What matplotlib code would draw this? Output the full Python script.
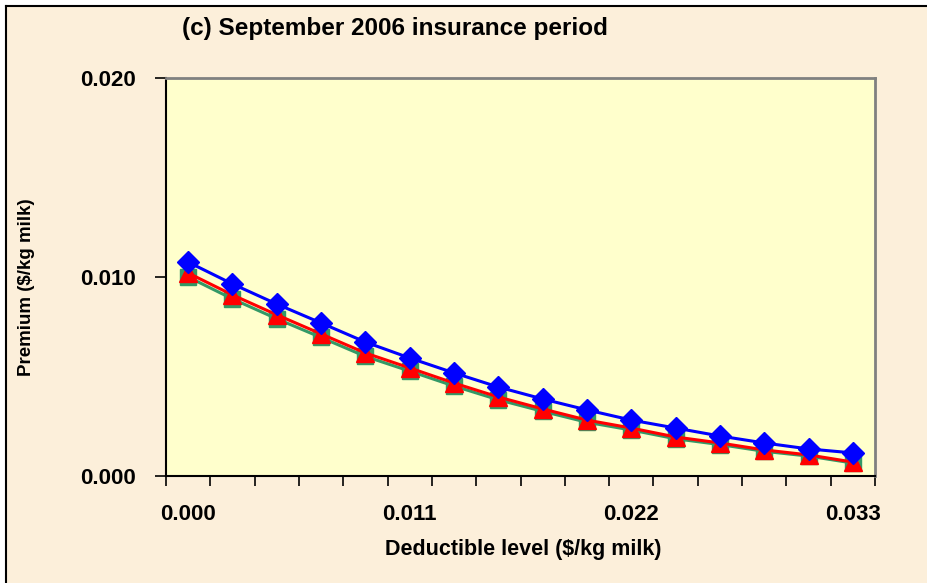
import numpy as np
import matplotlib.pyplot as plt
from matplotlib.patches import Rectangle
from matplotlib.lines import Line2D

plt.rcParams['font.family'] = ['Liberation Sans', 'DejaVu Sans']

deductible = [f"{0.0022 * i:.3f}" for i in range(16)]
tick_labels = ['0.000', '0.011', '0.022', '0.033']
blue = [0.01075, 0.00965, 0.00864, 0.00769, 0.00673, 0.00593, 0.00518, 0.00447,
        0.00387, 0.00332, 0.00281, 0.00241, 0.00201, 0.00166, 0.00136, 0.00116]
red = [0.0102, 0.0091, 0.0081, 0.00714, 0.00618, 0.00543, 0.00467, 0.00397,
       0.00337, 0.00281, 0.00241, 0.00196, 0.00166, 0.00131, 0.00106, 0.0007]
green = [0.01, 0.0089, 0.0079, 0.00696, 0.00601, 0.00527, 0.00452, 0.00383,
         0.00325, 0.0027, 0.00231, 0.00187, 0.00158, 0.00124, 0.001, 0.00065]

fig = plt.figure(figsize=(9.28, 5.83), dpi=100, facecolor='white')
bg = '#FCEFDA'
fig.patches.append(Rectangle((6 / 928, 0), 1, 1 - 6 / 583, transform=fig.transFigure,
                             facecolor=bg, edgecolor='none', zorder=-10))
fig.lines.append(Line2D([6 / 928, 6 / 928], [0, 1 - 6 / 583], transform=fig.transFigure,
                        color='black', lw=1.5))
fig.lines.append(Line2D([6 / 928, 1], [1 - 6 / 583, 1 - 6 / 583], transform=fig.transFigure,
                        color='black', lw=1.5))

ax = fig.add_axes([166 / 928, 1 - 476 / 583, (875 - 166) / 928, (476 - 78) / 583])
ax.set_facecolor('#FFFFCC')

x = np.arange(len(deductible))
ax.plot(x, green, color='#339966', lw=2.2, marker='s', ms=11, mec='#339966', zorder=3)
ax.plot(x, red, color='#FF0000', lw=2.2, marker='^', ms=13, mec='#FF0000', zorder=4)
ax.plot(x, blue, color='#0000FF', lw=2.2, marker='D', ms=11, mec='#0000FF', zorder=5)

ax.set_xlim(-0.5, 15.5)
ax.set_ylim(0, 0.02)
ax.set_xticks([0, 5, 10, 15])
ax.set_xticklabels(tick_labels, fontsize=16, fontweight='bold')
ax.set_xticks(np.arange(-0.5, 16, 1), minor=True)
ax.tick_params(axis='x', which='major', length=0, pad=20)
ax.tick_params(axis='x', which='minor', length=7, width=1.2, direction='out')
ax.set_yticks([0, 0.01, 0.02])
ax.set_yticklabels(['0.000', '0.010', '0.020'], fontsize=16, fontweight='bold')
ax.tick_params(axis='y', length=8, width=1.2, direction='out', pad=14)

for s in ['left', 'bottom']:
    ax.spines[s].set_color('black')
    ax.spines[s].set_linewidth(1.5)
for s in ['top', 'right']:
    ax.spines[s].set_color('#808080')
    ax.spines[s].set_linewidth(2)

fig.text(523 / 928, 1 - 550 / 583, 'Deductible level ($/kg milk)', fontsize=15.5,
         fontweight='bold', ha='center', va='center')
fig.text(27 / 928, 1 - 287 / 583, 'Premium ($/kg milk)', fontsize=13.5,
         fontweight='bold', ha='center', va='center', rotation=90)
fig.text(395 / 928, 1 - 28 / 583, '(c) September 2006 insurance period', fontsize=17.5,
         fontweight='bold', ha='center', va='center')

fig.savefig('out.png', dpi=100, facecolor=fig.get_facecolor())
